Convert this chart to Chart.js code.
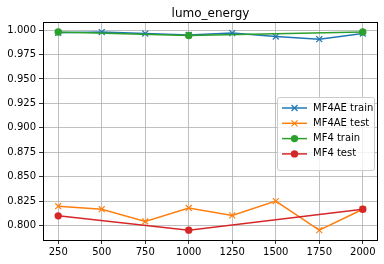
<!DOCTYPE html>
<html><head><meta charset="utf-8">
<script src="https://cdn.jsdelivr.net/npm/chart.js@4"></script>
<style>html,body{margin:0;padding:0;background:#fff}#c{display:block}</style>
</head><body>
<canvas id="c" width="384" height="264"></canvas>
<script>
const titleText = "lumo_energy";
const xAE = [250, 500, 750, 1000, 1250, 1500, 1750, 2000];
const aeTrain = [0.9972, 0.998, 0.9965, 0.995, 0.997, 0.9934, 0.9907, 0.9965];
const aeTest = [0.8198, 0.8167, 0.8042, 0.818, 0.8104, 0.825, 0.7953, 0.8167];
const xMF4 = [250, 1000, 2000];
const mf4Train = [0.998, 0.9945, 0.998];
const mf4Test = [0.8099, 0.7953, 0.8167];
const xTicks = [250, 500, 750, 1000, 1250, 1500, 1750, 2000];
const yTicks = [0.800, 0.825, 0.850, 0.875, 0.900, 0.925, 0.950, 0.975, 1.000];
const labels = ["MF4AE train", "MF4AE test", "MF4 train", "MF4 test"];
const colors = ["#1f77b4", "#ff7f0e", "#2ca02c", "#d62728"];

const pts = (xs, ys) => xs.map((x, i) => ({x, y: ys[i]}));
const FONT = "'DejaVu Sans', sans-serif";

function ds(i, data, style) {
  return {
    label: labels[i], data, borderColor: colors[i], backgroundColor: colors[i],
    borderWidth: 1.5, pointStyle: style, pointRadius: style === 'circle' ? 3.7 : 4.2,
    pointBorderWidth: style === 'circle' ? 0 : 1.2, pointBorderColor: colors[i],
    pointBackgroundColor: colors[i], tension: 0, order: 4 - i
  };
}

const frame = {
  id: 'frame',
  afterDatasetsDraw(chart) {
    const {ctx, chartArea: a} = chart;
    ctx.save();
    ctx.strokeStyle = '#000'; ctx.lineWidth = 1;
    ctx.strokeRect(Math.round(a.left) + 0.5, Math.round(a.top) + 0.5, Math.round(a.right - a.left) - 1, Math.round(a.bottom - a.top));
    ctx.fillStyle = '#000';
    ctx.font = "12px " + FONT;
    ctx.textAlign = 'center'; ctx.textBaseline = 'alphabetic';
    ctx.fillText(titleText, (a.left + a.right) / 2, a.top - 5);
    // legend
    const lx = 277, ly = 97, lw = 97, lh = 73;
    ctx.fillStyle = 'rgba(255,255,255,0.8)';
    ctx.strokeStyle = '#cccccc';
    ctx.lineWidth = 1;
    ctx.beginPath();
    if (ctx.roundRect) ctx.roundRect(lx + 0.5, ly + 0.5, lw, lh, 2); else ctx.rect(lx + 0.5, ly + 0.5, lw, lh);
    ctx.fill(); ctx.stroke();
    ctx.font = "10px " + FONT;
    ctx.textAlign = 'left'; ctx.textBaseline = 'middle';
    const styles = ['x', 'x', 'o', 'o'];
    for (let i = 0; i < 4; i++) {
      const y = ly + 11 + i * 15.3;
      ctx.strokeStyle = colors[i]; ctx.lineWidth = 1.5;
      ctx.beginPath(); ctx.moveTo(lx + 5, y); ctx.lineTo(lx + 30, y); ctx.stroke();
      const cx = lx + 17.5;
      if (styles[i] === 'x') {
        ctx.lineWidth = 1.2; ctx.beginPath();
        ctx.moveTo(cx - 3, y - 3); ctx.lineTo(cx + 3, y + 3);
        ctx.moveTo(cx - 3, y + 3); ctx.lineTo(cx + 3, y - 3); ctx.stroke();
      } else {
        ctx.fillStyle = colors[i]; ctx.beginPath(); ctx.arc(cx, y, 3.7, 0, Math.PI * 2); ctx.fill();
      }
      ctx.fillStyle = '#000';
      ctx.fillText(labels[i], lx + 36, y);
    }
    ctx.restore();
  }
};

new Chart(document.getElementById('c'), {
  type: 'line',
  data: {
    datasets: [
      ds(0, pts(xAE, aeTrain), 'crossRot'),
      ds(1, pts(xAE, aeTest), 'crossRot'),
      ds(2, pts(xMF4, mf4Train), 'circle'),
      ds(3, pts(xMF4, mf4Test), 'circle')
    ]
  },
  options: {
    responsive: false, animation: false, devicePixelRatio: 1,
    layout: {padding: {top: 22, right: 6, left: 0, bottom: 0}},
    plugins: {legend: {display: false}, title: {display: false}, tooltip: {enabled: false}},
    scales: {
      x: {
        type: 'linear', min: 162.5, max: 2087.5,
        afterBuildTicks: s => { s.ticks = xTicks.map(v => ({value: v})); },
        afterFit: s => { s.height = 24; },
        grid: {color: '#b0b0b0', lineWidth: 0.8, tickColor: '#000', tickLength: 4, drawOnChartArea: true},
        border: {display: false},
        ticks: {color: '#000', font: {family: FONT, size: 10}, padding: 2, maxRotation: 0, autoSkip: false,
          callback: v => String(v)}
      },
      y: {
        type: 'linear', min: 0.7852, max: 1.0083,
        afterBuildTicks: s => { s.ticks = yTicks.map(v => ({value: v})); },
        afterFit: s => { s.width = 43; },
        grid: {color: '#b0b0b0', lineWidth: 0.8, tickColor: '#000', tickLength: 4},
        border: {display: false},
        ticks: {color: '#000', font: {family: FONT, size: 10}, padding: 3, autoSkip: false,
          callback: v => v.toFixed(3)}
      }
    }
  },
  plugins: [frame]
});
</script>
</body></html>
